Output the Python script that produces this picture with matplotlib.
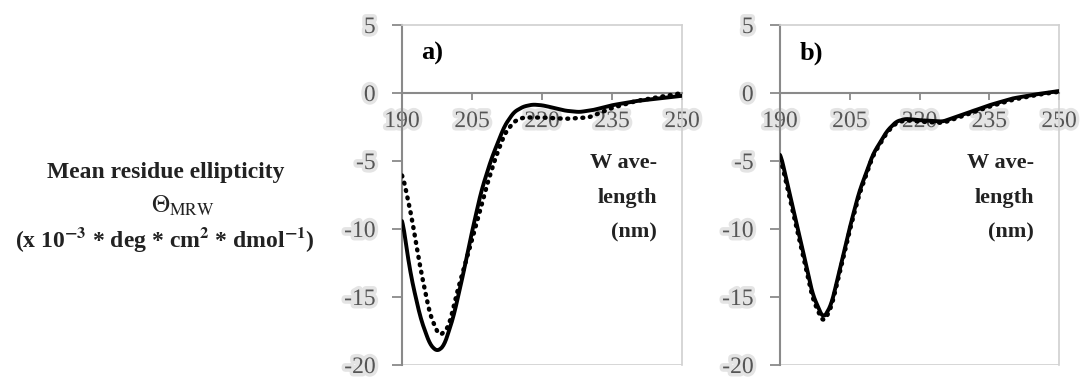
import matplotlib
matplotlib.use("Agg")
import matplotlib.pyplot as plt
import matplotlib.patheffects as pe
import numpy as np

plt.rcParams["axes.unicode_minus"] = False

# wavelength (nm) and mean residue ellipticity (x 10^-3)
wl_a_solid = [190, 191, 192, 194, 196, 197.5, 199, 201, 203, 205, 207, 209, 210, 212,
              214, 216, 218, 220, 222, 225, 228, 231, 235, 240, 245, 250]
theta_a_solid = [-9.0, -11.5, -13.6, -16.6, -18.5, -19.0, -18.6, -16.5, -13.5, -10.2, -7.2,
                 -5.0, -4.1, -2.4, -1.4, -1.0, -0.85, -0.9, -1.05, -1.3, -1.4, -1.25, -0.9,
                 -0.6, -0.4, -0.2]

wl_a_dot = [190, 192, 194, 196, 198, 200, 202, 205, 208, 210, 212, 214, 216, 220, 225,
            230, 235, 240, 245, 250]
theta_a_dot = [-5.8, -9.0, -13.0, -16.3, -17.9, -17.2, -14.4, -10.8, -7.0, -4.8, -3.0,
               -2.1, -1.8, -1.8, -1.9, -1.8, -1.1, -0.6, -0.3, 0.0]

wl_b_solid = [190, 192, 195, 197, 199.3, 201, 203, 205, 207, 210, 213, 215, 217, 220,
              225, 230, 235, 240, 245, 250]
theta_b_solid = [-4.3, -7.3, -11.7, -14.8, -16.6, -15.6, -12.8, -9.9, -7.3, -4.5, -2.8,
                 -2.1, -1.9, -2.0, -2.1, -1.5, -0.9, -0.4, -0.1, 0.15]

wl_b_dot = [190, 192, 195, 197, 199.3, 201, 203, 205, 207, 210, 213, 215, 217, 220,
            225, 230, 235, 240, 245, 250]
theta_b_dot = [-4.6, -7.6, -12.0, -15.1, -16.9, -15.8, -13.0, -10.1, -7.5, -4.6, -2.9,
               -2.2, -2.0, -2.1, -2.2, -1.6, -1.0, -0.5, -0.15, 0.1]

x_ticks = [190, 205, 220, 235, 250]
y_ticks = [5, 0, -5, -10, -15, -20]
panel_labels = ["a)", "b)"]

W, H = 1081, 377
fig = plt.figure(figsize=(W / 100, H / 100), dpi=100)

serif = ["Liberation Serif", "DejaVu Serif"]
halo = [pe.withStroke(linewidth=5, foreground="#e4e4e4")]


def smooth(x, y):
    xs = np.linspace(min(x), max(x), 400)
    ys = np.interp(xs, x, y)
    k = np.ones(9) / 9
    pad = np.concatenate([np.full(4, ys[0]), ys, np.full(4, ys[-1])])
    return xs, np.convolve(pad, k, mode="valid")


def panel(left_px, width_px, sx, sy, dx, dy, label):
    ax = fig.add_axes([left_px / W, 12 / H, width_px / W, 340 / H])
    xs, ys = smooth(sx, sy)
    ax.plot(xs, ys, color="black", lw=2.8, solid_capstyle="round", zorder=3)
    xd, yd = smooth(dx, dy)
    ax.plot(xd, yd, color="black", lw=3.2, linestyle=(0, (0.2, 1.5)),
            dash_capstyle="round", zorder=4)
    ax.set_xlim(190, 250)
    ax.set_ylim(-20, 5)
    for s in ["top", "right"]:
        ax.spines[s].set_color("#d0d0d0")
        ax.spines[s].set_linewidth(1.2)
    ax.spines["left"].set_color("#8a8a8a")
    ax.spines["left"].set_linewidth(1.5)
    ax.spines["bottom"].set_position(("data", 0))
    ax.spines["bottom"].set_color("#8a8a8a")
    ax.spines["bottom"].set_linewidth(1.5)
    ax.axhline(-20, color="#d0d0d0", lw=1.2, zorder=1)
    ax.set_xticks(x_ticks)
    ax.set_yticks(y_ticks)
    ax.tick_params(axis="y", direction="out", length=7, width=1.3, color="#8a8a8a",
                   pad=12, labelsize=17, labelcolor="#555555")
    ax.tick_params(axis="x", direction="out", length=5, width=1.3, color="#8a8a8a",
                   pad=8, labelsize=17, labelcolor="#555555")
    for t in ax.get_xticklabels() + ax.get_yticklabels():
        t.set_family(serif)
        t.set_path_effects(halo)
    ax.text(0.07, 0.95, label, transform=ax.transAxes, fontsize=19, fontweight="bold",
            family=serif, va="top", ha="left")
    ax.text(0.91, 0.625, "W ave-\nlength\n(nm)", transform=ax.transAxes, fontsize=16,
            fontweight="bold", family=serif, ha="right", va="top", linespacing=2.0,
            color="#222222")
    return ax


panel(402, 280, wl_a_solid, theta_a_solid, wl_a_dot, theta_a_dot, panel_labels[0])
panel(780, 279, wl_b_solid, theta_b_solid, wl_b_dot, theta_b_dot, panel_labels[1])

fig.text(166 / W, 1 - 172 / H, "Mean residue ellipticity", fontsize=17, fontweight="bold",
         family=serif, ha="center", va="center", color="#222222")
fig.text(183 / W, 1 - 206 / H, r"$\Theta_{\mathrm{MRW}}$", fontsize=18, ha="center",
         va="center", color="#222222", math_fontfamily="stix")
fig.text(165 / W, 1 - 240 / H,
         r"(x 10$^{\mathbf{-3}}$ * deg * cm$^{\mathbf{2}}$ * dmol$^{\mathbf{-1}}$)",
         fontsize=17, fontweight="bold", family=serif, ha="center", va="center",
         color="#222222", math_fontfamily="stix")

fig.savefig("out.png", dpi=100)
